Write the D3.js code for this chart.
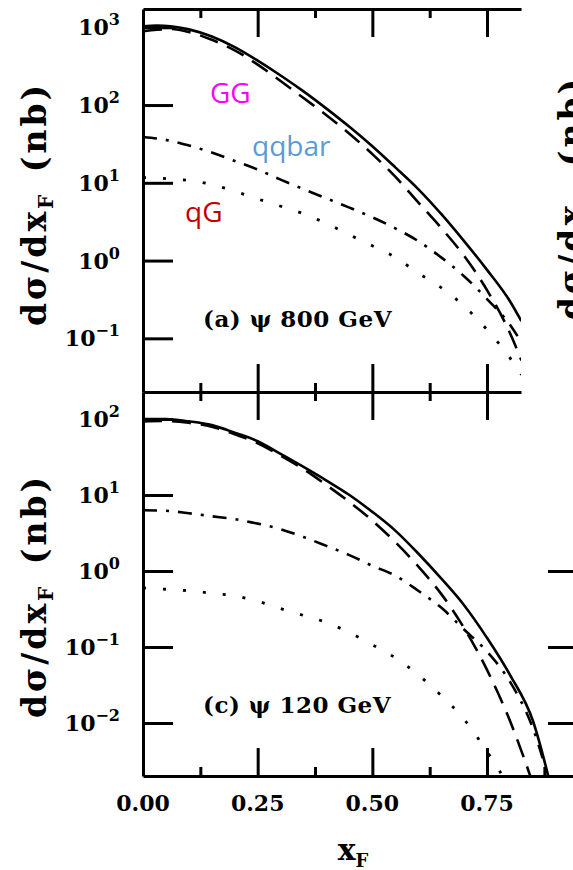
<!DOCTYPE html>
<html>
<head>
<meta charset="utf-8">
<script src="https://cdn.jsdelivr.net/npm/d3@7"></script>
<style>
  body { margin: 0; background: #fff; }
  svg { display: block; }
  .lbl { font-family: "DejaVu Serif", serif; font-weight: bold; fill: #000; }
  .note { font-family: "Open Sans", "Noto Sans", sans-serif; }
</style>
</head>
<body>
<div id="chart"></div>
<script>
// x_F grid, top panel (800 GeV)
var xfA = [0, 0.03, 0.06, 0.10, 0.15, 0.20, 0.25, 0.30, 0.35, 0.40, 0.45, 0.50, 0.55, 0.60, 0.65, 0.70, 0.75, 0.80, 0.825];
var totalA = [1030, 1050, 1030, 940, 760, 555, 372, 240, 150, 90, 52.5, 29.5, 15.8, 8.3, 3.98, 1.78, 0.76, 0.30, 0.166];
var ggA    = [890, 930, 950, 870, 690, 505, 331, 204, 123, 74, 42.7, 23.4, 12.0, 5.6, 2.63, 1.15, 0.417, 0.117, 0.052];
var qqbarA = [38.9, 37.2, 34.7, 30.2, 24.5, 19.1, 14.8, 11.0, 8.3, 6.3, 4.8, 3.6, 2.6, 1.78, 1.10, 0.63, 0.32, 0.15, 0.089];
var qgA    = [11.7, 11.5, 11.2, 10.7, 9.5, 7.8, 6.2, 5.0, 4.0, 3.0, 2.14, 1.55, 1.10, 0.69, 0.45, 0.26, 0.129, 0.056, 0.034];

// x_F grid, bottom panel (120 GeV)
var xfC = [0, 0.05, 0.10, 0.15, 0.20, 0.25, 0.30, 0.35, 0.40, 0.45, 0.50, 0.55, 0.60, 0.65, 0.70, 0.75, 0.80, 0.85, 0.89];
var totalC = [100, 100, 93, 83, 66, 51, 34.7, 23.4, 15.5, 10.0, 6.0, 3.4, 1.70, 0.80, 0.355, 0.132, 0.043, 0.0107, 0.0014];
var ggC    = [93, 94, 89, 79, 63, 48, 33, 21.9, 13.5, 8.1, 4.6, 2.4, 1.15, 0.50, 0.178, 0.050, 0.0107, 0.0016, 0.0003];
var qqbarC = [6.3, 6.2, 5.75, 5.25, 4.8, 4.2, 3.55, 2.8, 2.14, 1.62, 1.17, 0.87, 0.55, 0.33, 0.17, 0.087, 0.035, 0.0085, 0.0014];
var qgC    = [0.60, 0.575, 0.55, 0.51, 0.47, 0.40, 0.32, 0.26, 0.21, 0.155, 0.107, 0.072, 0.043, 0.023, 0.0112, 0.0042, 0.0014, 0.0004, 0.0001];

var xMajor = [0.25, 0.5, 0.75];
var xMinor = [0.125, 0.375, 0.625, 0.875];
var xLabels = [0, 0.25, 0.5, 0.75];
var expA = [3, 2, 1, 0, -1];
var expC = [2, 1, 0, -1, -2];
var expD = [0, -1, -2];

var width = 573, height = 870;
var pLeft = 143, pMid = 392, pTop = 9, pBot = 776, rightA = 521, rightC = 573;
var pxPerUnit = 458.7;

var svg = d3.select("#chart").append("svg")
    .attr("width", width).attr("height", height);

var xA = d3.scaleLinear().domain([0, (rightA - pLeft) / pxPerUnit]).range([pLeft, rightA]);
var xC = d3.scaleLinear().domain([0, (rightC - pLeft) / pxPerUnit]).range([pLeft, rightC]);
var yA = d3.scaleLog().domain([Math.pow(10, -1.69), Math.pow(10, 3.235)]).range([pMid, pTop]);
var yC = d3.scaleLog().domain([Math.pow(10, -2.697), Math.pow(10, 2.355)]).range([pBot, pMid]);

var defs = svg.append("defs");
defs.append("clipPath").attr("id", "clipA").append("rect")
    .attr("x", pLeft).attr("y", pTop).attr("width", rightA - pLeft).attr("height", pMid - pTop);
defs.append("clipPath").attr("id", "clipC").append("rect")
    .attr("x", pLeft).attr("y", pMid).attr("width", rightC - pLeft).attr("height", pBot - pMid);

var styles = {
  total: {dash: null, w: 2.6},
  gg:    {dash: "19,10", w: 2.6},
  qqbar: {dash: "14,9,3,9", w: 2.6},
  qg:    {dash: "3,17", w: 2.8}
};

function drawCurves(clip, x, y, xs, series) {
  var g = svg.append("g").attr("clip-path", "url(#" + clip + ")");
  series.forEach(function(s) {
    var line = d3.line()
        .x(function(d, i) { return x(xs[i]); })
        .y(function(d) { return y(d); })
        .curve(d3.curveMonotoneX);
    g.append("path")
        .datum(s.values)
        .attr("d", line)
        .attr("fill", "none")
        .attr("stroke", "#000")
        .attr("stroke-width", styles[s.key].w)
        .attr("stroke-dasharray", styles[s.key].dash);
  });
}

drawCurves("clipA", xA, yA, xfA, [
  {key: "total", values: totalA}, {key: "gg", values: ggA},
  {key: "qqbar", values: qqbarA}, {key: "qg", values: qgA}]);
drawCurves("clipC", xC, yC, xfC, [
  {key: "total", values: totalC}, {key: "gg", values: ggC},
  {key: "qqbar", values: qqbarC}, {key: "qg", values: qgC}]);

function axisStyle(sel, keepDomain) {
  sel.selectAll("line").attr("stroke", "#000").attr("stroke-width", 3);
  sel.select(".domain").attr("stroke", keepDomain ? "#000" : "none").attr("stroke-width", 3);
}

function addXAxis(scale, ypos, ticks, len, isTop, keepDomain) {
  var ax = (isTop ? d3.axisTop(scale) : d3.axisBottom(scale))
      .tickValues(ticks.filter(function(t) { return t <= scale.domain()[1]; }))
      .tickSize(-len).tickSizeOuter(0).tickFormat("");
  svg.append("g")
      .attr("transform", "translate(0," + ypos + ")")
      .call(ax)
      .call(axisStyle, keepDomain);
}

// panel (a) frame
addXAxis(xA, pTop, xMajor, 28, true, true);
addXAxis(xA, pTop, xMinor, 9, true, false);
addXAxis(xA, pMid, xMajor, 28, false, true);
addXAxis(xA, pMid, xMinor, 9, false, false);
// panel (c) frame
addXAxis(xA, pMid, xMajor, 28, true, false);
addXAxis(xA, pMid, xMinor, 9, true, false);
addXAxis(xC, pBot, xMajor, 28, false, true);
addXAxis(xC, pBot, xMinor, 9, false, false);

function addYAxis(scale, exps, xpos, len, keepDomain) {
  svg.append("g")
      .attr("transform", "translate(" + xpos + ",0)")
      .call(d3.axisLeft(scale)
          .tickValues(exps.map(function(e) { return Math.pow(10, e); }))
          .tickSize(-len).tickSizeOuter(0).tickFormat(""))
      .call(axisStyle, keepDomain);
}
addYAxis(yA, expA, pLeft, 30, true);
addYAxis(yC, expC, pLeft, 30, true);
addYAxis(yC, expD, 548, 26, false);

function yLabels(scale, exps) {
  exps.forEach(function(e) {
    var t = svg.append("text").attr("class", "lbl")
        .attr("x", 120).attr("y", scale(Math.pow(10, e)) + 8)
        .attr("text-anchor", "end")
        .style("font-size", "22px");
    t.append("tspan").text("10");
    t.append("tspan").attr("dy", -10).style("font-size", "16px")
        .text(e < 0 ? "\u2212" + (-e) : String(e));
  });
}
yLabels(yA, expA);
yLabels(yC, expC);

svg.selectAll(".xtl").data(xLabels).enter().append("text")
    .attr("class", "lbl xtl")
    .attr("x", function(d) { return xC(d); })
    .attr("y", 811)
    .attr("text-anchor", "middle")
    .style("font-size", "22px")
    .text(d3.format(".2f"));

var xl = svg.append("text").attr("class", "lbl")
    .attr("x", 353).attr("y", 860).attr("text-anchor", "middle")
    .style("font-size", "30px");
xl.append("tspan").text("x");
xl.append("tspan").attr("dy", 7).style("font-size", "18px").text("F");

function yTitle(cx, cy) {
  var t = svg.append("text").attr("class", "lbl")
      .attr("transform", "translate(" + cx + "," + cy + ") rotate(-90)")
      .attr("text-anchor", "middle")
      .style("font-size", "33px")
      .style("letter-spacing", "3px");
  t.append("tspan").text("d\u03c3/dx");
  t.append("tspan").attr("dy", 7).style("font-size", "20px").text("F");
  t.append("tspan").attr("dy", -7).text("\u2002(nb)");
}
yTitle(46, 204);
yTitle(46, 596);
yTitle(583, 198);

svg.append("text").attr("class", "lbl")
    .attr("x", 203).attr("y", 327).style("font-size", "23px")
    .style("letter-spacing", "0.5px")
    .text("(a) \u03c8 800 GeV");
svg.append("text").attr("class", "lbl")
    .attr("x", 203).attr("y", 713).style("font-size", "23px")
    .style("letter-spacing", "0.5px")
    .text("(c) \u03c8 120 GeV");

var notes = [
  {text: "GG", x: 210, y: 103, color: "#ff00ff"},
  {text: "qqbar", x: 252, y: 156, color: "#5b9bd5"},
  {text: "qG", x: 185, y: 222, color: "#c00000"}
];
svg.selectAll(".note").data(notes).enter().append("text")
    .attr("class", "note")
    .attr("x", function(d) { return d.x; })
    .attr("y", function(d) { return d.y; })
    .attr("fill", function(d) { return d.color; })
    .style("font-size", "28px")
    .text(function(d) { return d.text; });
</script>
</body>
</html>
